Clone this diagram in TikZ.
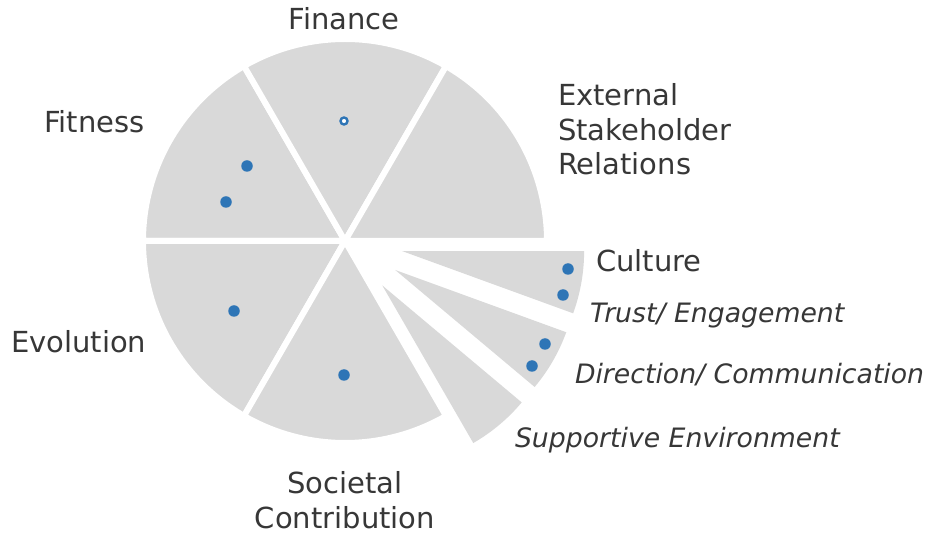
\documentclass[tikz,border=0pt]{standalone}
\usepackage{fontspec}
\setmainfont{DejaVu Sans}
\begin{document}
\begin{tikzpicture}[x=1pt, y=1pt,
    inner sep=0pt, outer sep=0pt,
    slice/.style={fill=slicegray, draw=white, line width=6pt},
    subslice/.style={fill=slicegray},
    dot/.style={circle, fill=dotblue, minimum size=11.5pt},
    opendot/.style={circle, draw=dotblue, fill=white, line width=2.4pt, minimum size=7pt},
    catlabel/.style={text=labelgray, font=\fontsize{29}{34.5}\selectfont},
    sublabel/.style={text=labelgray, font=\fontsize{26.7}{30}\selectfont\itshape},
]
    % Colors
    \definecolor{slicegray}{RGB}{217,217,217}
    \definecolor{dotblue}{RGB}{46,117,182}
    \definecolor{labelgray}{RGB}{55,55,55}

    \useasboundingbox (0,0) rectangle (928,535);
    \coordinate (C) at (345,294);

    % Main slices
    \fill[slice] (C) -- ++(120:202) arc[start angle=120, end angle=180, radius=202] -- cycle; % fitness
    \fill[slice] (C) -- ++(60:202) arc[start angle=60, end angle=120, radius=202] -- cycle; % finance
    \fill[slice] (C) -- ++(0:202) arc[start angle=0, end angle=60, radius=202] -- cycle; % external
    \fill[slice] (C) -- ++(180:202) arc[start angle=180, end angle=240, radius=202] -- cycle; % evolution
    \fill[slice] (C) -- ++(240:202) arc[start angle=240, end angle=300, radius=202] -- cycle; % societal

    % Culture, pulled out
    \foreach \a/\n in {0/trust, -20/direction, -40/supportive}
        \fill[subslice] (C) ++(\a-10:58) coordinate (\n) -- ++(\a:182)
            arc[start angle=\a, end angle=\a-20, radius=182] -- cycle;

    % Dots
    \node[opendot] (d1) at (344,414) {};
    \node[dot] (d2) at (247,369) {};
    \node[dot] (d3) at (226,333) {};
    \node[dot] (d4) at (234,224) {};
    \node[dot] (d5) at (344,160) {};
    \node[dot] (d6) at (568,266) {};
    \node[dot] (d7) at (563,240) {};
    \node[dot] (d8) at (545,191) {};
    \node[dot] (d9) at (532,169) {};

    % Labels (base of a multi-line node is its last line)
    \node[catlabel, anchor=base] (finance) at (344,505) {Finance};
    \node[catlabel, anchor=base west] (fitness) at (44,402) {Fitness};
    \node[catlabel, anchor=base west, align=left] (external) at (558,360) {External\\Stakeholder\\Relations};
    \node[catlabel, anchor=base west] (culture) at (596,263) {Culture};
    \node[catlabel, anchor=base west] (evolution) at (11,182) {Evolution};
    \node[catlabel, anchor=base, align=center] (societal) at (345,7) {Societal\\Contribution};
    \node[sublabel, anchor=base west] (trustlab) at (590,212) {Trust/ Engagement};
    \node[sublabel, anchor=base west] (directionlab) at (575,151) {Direction/ Communication};
    \node[sublabel, anchor=base west] (supportivelab) at (515,87) {Supportive Environment};
\end{tikzpicture}
\end{document}
